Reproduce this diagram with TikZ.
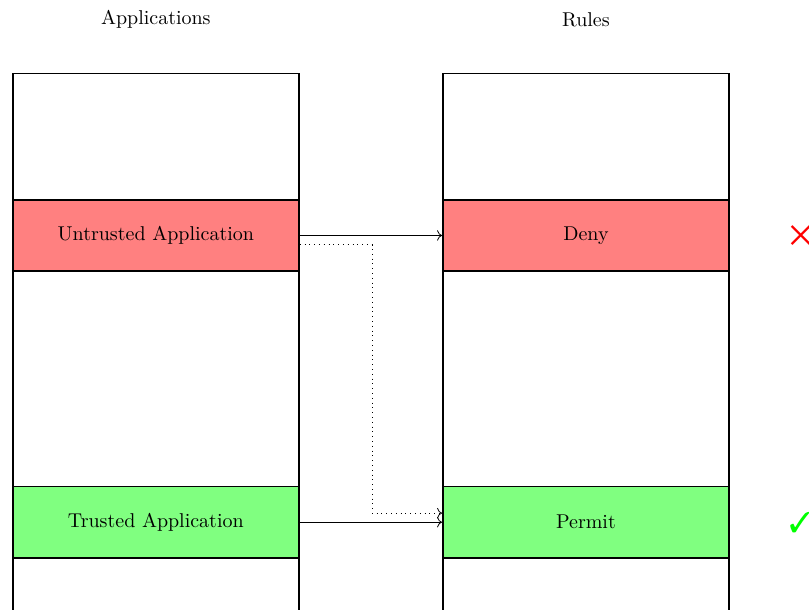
\documentclass[tikz,border=0pt]{standalone}
\usepackage{amsmath}
\usepackage{pifont}
\usetikzlibrary{arrows.meta, positioning}
\definecolor{denyred}{HTML}{FF8080}
\definecolor{permitgreen}{HTML}{80FF80}

\begin{document}
\begin{tikzpicture}[
  node distance=2.22cm,
  col/.style={rectangle, draw, thick, minimum width=5.03cm,
              minimum height=10cm, inner sep=0pt},
  band/.style={rectangle, draw, thick, minimum width=5.03cm,
               minimum height=1.25cm, inner sep=0pt},
  verdict/.style={inner sep=0pt, font=\Large}
]
  \useasboundingbox (0,0) rectangle (14.22,-10.72);

  % the two columns
  \node[col, anchor=north west] (appcol) at (0.21,-1.28) {};
  \node[col, anchor=north west] (rulecol) at (7.77,-1.28) {};
  \node[above=0.66cm of appcol] (apptitle) {Applications};
  \node[above=0.68cm of rulecol] (ruletitle) {Rules};

  % entries
  \node[band, fill=denyred, below=2.22cm of appcol.north] (untrusted) {Untrusted Application};
  \node[band, fill=permitgreen, below=7.26cm of appcol.north] (trusted) {Trusted Application};
  \node[band, fill=denyred, below=2.22cm of rulecol.north] (deny) {Deny};
  \node[band, fill=permitgreen, below=7.26cm of rulecol.north] (permit) {Permit};

  % outcome marks
  \node[verdict, text=red, right=1.05cm of deny] (denymark) {\ding{53}};
  \node[verdict, text=green, right=1.04cm of permit] (permitmark) {\ding{51}};

  \draw[->] (untrusted) -- (deny);
  \draw[->] (trusted) -- (permit);
  \draw[->, dotted] ([yshift=-0.16cm]untrusted.east) -- ++(1.27,0) |- ([yshift=0.16cm]permit.west);
\end{tikzpicture}
\end{document}
